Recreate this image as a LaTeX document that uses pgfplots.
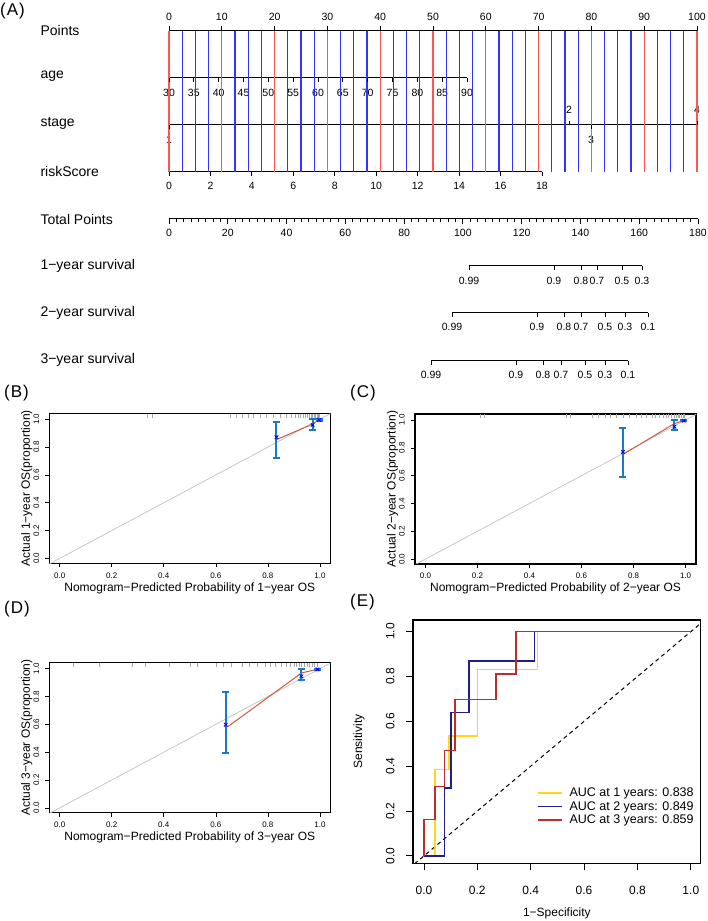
\documentclass[border=0pt]{standalone}
\usepackage{fontspec}
\setmainfont{Liberation Sans}
\usepackage{pgfplots}
\pgfplotsset{compat=1.18}
\definecolor{nred}{RGB}{255,85,85}
\definecolor{nblue}{RGB}{50,50,255}
\definecolor{ebar}{RGB}{25,120,200}
\definecolor{cred}{RGB}{205,90,65}
\definecolor{rocY}{RGB}{255,215,20}
\definecolor{rocB}{RGB}{30,30,140}
\definecolor{rocR}{RGB}{190,45,45}
\newcommand\fRow{\fontsize{14}{16}\selectfont}
\newcommand\fTk{\fontsize{10.5}{12}\selectfont}
\newcommand\fPan{\fontsize{17}{19}\selectfont}
\newcommand\fCt{\fontsize{8}{9}\selectfont}
\newcommand\fCl{\fontsize{12}{14}\selectfont}
\newcommand\fLg{\fontsize{12.5}{14}\selectfont}
\pgfplotsset{
 numfmt/.style={/pgf/number format/fixed, /pgf/number format/fixed zerofill, /pgf/number format/precision=1, /pgf/number format/assume math mode=true},
 calib/.style={scale only axis, width=281pt, height=150pt,
   xmin=-0.04, xmax=1.04, ymin=-0.035, ymax=1.043,
   axis line style={line width=1.1pt},
   tick align=outside, xtick pos=left, ytick pos=left,
   xtick={0,0.2,0.4,0.6,0.8,1}, ytick={0,0.2,0.4,0.6,0.8,1},
   major tick length=4pt, tick style={black, line width=0.6pt},
   xticklabel style={yshift=-4pt, font=\fCt, inner sep=1pt, numfmt},
   yticklabel style={xshift=-5pt, font=\fCt, inner sep=1pt, numfmt, rotate=90, anchor=south},
   xlabel style={font=\fCl, at={(axis description cs:0.5,-0.165)}, anchor=center},
   ylabel style={font=\fCl, at={(axis description cs:-0.08,0.5)}, anchor=center},
 },
 diag/.style={gray!45, line width=0.8pt},
 rug/.style={only marks, mark=|, mark size=2pt, mark options={gray!70, line width=0.4pt}},
 calline/.style={cred, line width=1pt},
 ebars/.style={only marks, mark=x, mark size=2.5pt, mark options={blue, line width=0.9pt},
   error bars/.cd, y dir=both, y explicit, error mark=|,
   error bar style={ebar, line width=2pt},
   error mark options={ebar, line width=2pt, mark size=3.5pt}},
 ntick/.style={only marks, mark=|, mark options={black, line width=0.9pt}},
}
\begin{document}
\begin{tikzpicture}[x=1pt,y=1pt]
\useasboundingbox (0,0) rectangle (708,921);
\node[anchor=west, font=\fPan, inner sep=0pt] at (0,910) {(\kern1pt A\kern1pt)};
\node[anchor=west, font=\fPan, inner sep=0pt] at (4,528) {(\kern1pt B\kern1pt)};
\node[anchor=west, font=\fPan, inner sep=0pt] at (350,528) {(\kern1pt C\kern1pt)};
\node[anchor=west, font=\fPan, inner sep=0pt] at (4,312) {(\kern1pt D\kern1pt)};
\node[anchor=west, font=\fPan, inner sep=0pt] at (350,319) {(\kern1pt E\kern1pt)};

% ---------------- nomogram (x in Points units, y in rows) ----------------
\begin{axis}[at={(0pt,536pt)}, anchor=south west, scale only axis, width=708pt, height=385pt,
  xmin=-32.008, xmax=102.083, ymin=0, ymax=385, y dir=reverse, axis lines=none, clip=false]
% vertical reference lines
\addplot[only marks, mark=|, mark size=70.5pt, mark options={nblue, line width=1.1pt}] coordinates {
 (2.5,101.5)(5,101.5)(7.5,101.5)(12.5,101.5)(15,101.5)(17.5,101.5)(22.5,101.5)(25,101.5)(27.5,101.5)
 (32.5,101.5)(35,101.5)(37.5,101.5)(42.5,101.5)(45,101.5)(47.5,101.5)(52.5,101.5)(55,101.5)(57.5,101.5)
 (62.5,101.5)(65,101.5)(67.5,101.5)(72.5,101.5)(75,101.5)(77.5,101.5)(82.5,101.5)(85,101.5)(87.5,101.5)
 (92.5,101.5)(95,101.5)(97.5,101.5)};
\addplot[only marks, mark=|, mark size=70.5pt, mark options={nred, line width=1.1pt}] coordinates {
 (0,101.5)(10,101.5)(20,101.5)(30,101.5)(40,101.5)(50,101.5)(60,101.5)(70,101.5)(80,101.5)(90,101.5)(100,101.5)};
% Points
\addplot[black, line width=1pt] coordinates {(0,31) (100,31)};
\addplot[ntick, mark size=2.5pt] coordinates {(0,28.5)(10,28.5)(20,28.5)(30,28.5)(40,28.5)(50,28.5)(60,28.5)(70,28.5)(80,28.5)(90,28.5)(100,28.5)};
\pgfplotsinvokeforeach{0,10,...,100}{\node[font=\fTk] at (axis cs:#1,17) {#1};}
% age
\addplot[black, line width=1pt] coordinates {(0,78) (56.44,78)};
\addplot[ntick, mark size=2pt] coordinates {(0,80)(4.703,80)(9.407,80)(14.11,80)(18.813,80)(23.517,80)(28.22,80)(32.923,80)(37.627,80)(42.33,80)(47.033,80)(51.737,80)(56.44,80)};
\node[font=\fTk] at (axis cs:0,93) {30};
\node[font=\fTk] at (axis cs:4.703,93) {35};
\node[font=\fTk] at (axis cs:9.407,93) {40};
\node[font=\fTk] at (axis cs:14.11,93) {45};
\node[font=\fTk] at (axis cs:18.813,93) {50};
\node[font=\fTk] at (axis cs:23.517,93) {55};
\node[font=\fTk] at (axis cs:28.22,93) {60};
\node[font=\fTk] at (axis cs:32.923,93) {65};
\node[font=\fTk] at (axis cs:37.627,93) {70};
\node[font=\fTk] at (axis cs:42.33,93) {75};
\node[font=\fTk] at (axis cs:47.033,93) {80};
\node[font=\fTk] at (axis cs:51.737,93) {85};
\node[font=\fTk] at (axis cs:56.44,93) {90};
% stage
\addplot[black, line width=1pt] coordinates {(0,125) (100,125)};
\addplot[ntick, mark size=2pt] coordinates {(0,127)(79.92,127)};
\addplot[ntick, mark size=2pt] coordinates {(75.76,123)(100,123)};
\node[font=\fTk] at (axis cs:0,140) {1};
\node[font=\fTk] at (axis cs:75.76,110) {2};
\node[font=\fTk] at (axis cs:79.92,140) {3};
\node[font=\fTk] at (axis cs:100,110) {4};
% riskScore
\addplot[black, line width=1pt] coordinates {(0,172) (70.64,172)};
\addplot[ntick, mark size=2pt] coordinates {(0,174)(7.849,174)(15.698,174)(23.546,174)(31.395,174)(39.244,174)(47.093,174)(54.942,174)(62.79,174)(70.64,174)};
\node[font=\fTk] at (axis cs:0,186) {0};
\node[font=\fTk] at (axis cs:7.849,186) {2};
\node[font=\fTk] at (axis cs:15.698,186) {4};
\node[font=\fTk] at (axis cs:23.546,186) {6};
\node[font=\fTk] at (axis cs:31.395,186) {8};
\node[font=\fTk] at (axis cs:39.244,186) {10};
\node[font=\fTk] at (axis cs:47.093,186) {12};
\node[font=\fTk] at (axis cs:54.942,186) {14};
\node[font=\fTk] at (axis cs:62.79,186) {16};
\node[font=\fTk] at (axis cs:70.64,186) {18};
% 1-year survival
\addplot[black, line width=1pt] coordinates {(56.82,266) (89.58,266)};
\addplot[ntick, mark size=2pt] coordinates {(56.82,268)(72.92,268)(78.03,268)(81.06,268)(85.80,268)(89.58,268)};
\node[font=\fTk] at (axis cs:56.82,281) {0.99};
\node[font=\fTk] at (axis cs:72.92,281) {0.9};
\node[font=\fTk] at (axis cs:78.03,281) {0.8};
\node[font=\fTk] at (axis cs:81.06,281) {0.7};
\node[font=\fTk] at (axis cs:85.80,281) {0.5};
\node[font=\fTk] at (axis cs:89.58,281) {0.3};
% 2-year survival
\addplot[black, line width=1pt] coordinates {(53.60,313) (90.72,313)};
\addplot[ntick, mark size=2pt] coordinates {(53.60,315)(69.70,315)(74.81,315)(78.03,315)(82.58,315)(86.36,315)(90.72,315)};
\node[font=\fTk] at (axis cs:53.60,327) {0.99};
\node[font=\fTk] at (axis cs:69.70,327) {0.9};
\node[font=\fTk] at (axis cs:74.81,327) {0.8};
\node[font=\fTk] at (axis cs:78.03,327) {0.7};
\node[font=\fTk] at (axis cs:82.58,327) {0.5};
\node[font=\fTk] at (axis cs:86.36,327) {0.3};
\node[font=\fTk] at (axis cs:90.72,327) {0.1};
% 3-year survival
\addplot[black, line width=1pt] coordinates {(49.62,361) (86.93,361)};
\addplot[ntick, mark size=2pt] coordinates {(49.62,363)(65.72,363)(70.83,363)(74.24,363)(78.79,363)(82.58,363)(86.93,363)};
\node[font=\fTk] at (axis cs:49.62,375) {0.99};
\node[font=\fTk] at (axis cs:65.72,375) {0.9};
\node[font=\fTk] at (axis cs:70.83,375) {0.8};
\node[font=\fTk] at (axis cs:74.24,375) {0.7};
\node[font=\fTk] at (axis cs:78.79,375) {0.5};
\node[font=\fTk] at (axis cs:82.58,375) {0.3};
\node[font=\fTk] at (axis cs:86.93,375) {0.1};
% row labels
\node[font=\fRow, anchor=west] at (axis cs:-25,31) {Points};
\node[font=\fRow, anchor=west] at (axis cs:-25,76) {age};
\node[font=\fRow, anchor=west] at (axis cs:-25,123) {stage};
\node[font=\fRow, anchor=west] at (axis cs:-25,171) {riskScore};
\node[font=\fRow, anchor=west] at (axis cs:-25,219) {Total Points};
\node[font=\fRow, anchor=west] at (axis cs:-25,266) {1−year survival};
\node[font=\fRow, anchor=west] at (axis cs:-25,313) {2−year survival};
\node[font=\fRow, anchor=west] at (axis cs:-25,360) {3−year survival};
\end{axis}

% Total Points scale
\begin{axis}[at={(169pt,702pt)}, anchor=south west, scale only axis, width=529pt, height=10pt,
  xmin=0, xmax=180, ymin=0, ymax=1, axis x line*=bottom, axis y line=none,
  axis line style={line width=1pt}, tick align=outside,
  xtick={0,20,...,180}, minor x tick num=7, major tick length=5pt, minor tick length=3pt,
  tick style={black, line width=0.8pt},
  xticklabel style={yshift=-2pt, font=\fTk, /pgf/number format/assume math mode=true}]
\addplot[draw=none] coordinates {(0,0) (180,0)};
\end{axis}

% ---------------- (B) ----------------
\begin{axis}[calib, at={(49.3pt,357.7pt)}, anchor=south west,
  xlabel={Nomogram−Predicted Probability of 1−year OS}, ylabel={Actual 1−year OS(proportion)}]
\addplot[diag] coordinates {(-0.1,-0.1) (1.1,1.1)};
\addplot[rug] coordinates {(0.335,1.025)(0.354,1.025)(0.655,1.025)(0.68,1.025)(0.70,1.025)(0.725,1.025)(0.744,1.025)(0.77,1.025)(0.795,1.025)(0.821,1.025)(0.847,1.025)(0.872,1.025)(0.89,1.025)(0.905,1.025)(0.915,1.025)(0.925,1.025)(0.935,1.025)(0.945,1.025)(0.952,1.025)(0.96,1.025)(0.966,1.025)(0.972,1.025)(0.978,1.025)(0.983,1.025)(0.988,1.025)(0.992,1.025)(0.996,1.025)};
\addplot[calline] coordinates {(0.835,0.855) (0.972,0.966) (0.997,0.996)};
\addplot[ebars] coordinates {(0.833,0.871) += (0,0.107) -= (0,0.146)
 (0.972,0.959) += (0,0.041) -= (0,0.036)
 (0.997,0.995) += (0,0.005) -= (0,0.005)};
\end{axis}

% ---------------- (C) ----------------
\begin{axis}[calib, at={(415pt,357pt)}, anchor=south west,
  xlabel={Nomogram−Predicted Probability of 2−year OS}, ylabel={Actual 2−year OS(proportion)}]
\addplot[diag] coordinates {(-0.1,-0.1) (1.1,1.1)};
\addplot[rug] coordinates {(0.21,1.025)(0.225,1.025)(0.54,1.025)(0.555,1.025)(0.64,1.025)(0.665,1.025)(0.69,1.025)(0.71,1.025)(0.735,1.025)(0.76,1.025)(0.785,1.025)(0.81,1.025)(0.83,1.025)(0.85,1.025)(0.87,1.025)(0.885,1.025)(0.9,1.025)(0.912,1.025)(0.924,1.025)(0.935,1.025)(0.945,1.025)(0.955,1.025)(0.963,1.025)(0.97,1.025)(0.977,1.025)(0.984,1.025)(0.99,1.025)(0.995,1.025)};
\addplot[calline] coordinates {(0.762,0.755) (0.955,0.972) (0.993,0.997)};
\addplot[ebars] coordinates {(0.759,0.770) += (0,0.170) -= (0,0.179)
 (0.957,0.952) += (0,0.048) -= (0,0.026)
 (0.993,0.995) += (0,0.005) -= (0,0.005)};
\end{axis}

% ---------------- (D) ----------------
\begin{axis}[calib, at={(49.3pt,108.3pt)}, anchor=south west,
  xlabel={Nomogram−Predicted Probability of 3−year OS}, ylabel={Actual 3−year OS(proportion)}]
\addplot[diag] coordinates {(-0.1,-0.1) (1.1,1.1)};
\addplot[rug] coordinates {(0.05,1.025)(0.15,1.025)(0.28,1.025)(0.33,1.025)(0.42,1.025)(0.5,1.025)(0.53,1.025)(0.6,1.025)(0.63,1.025)(0.66,1.025)(0.7,1.025)(0.73,1.025)(0.76,1.025)(0.79,1.025)(0.81,1.025)(0.83,1.025)(0.85,1.025)(0.87,1.025)(0.885,1.025)(0.9,1.025)(0.91,1.025)(0.92,1.025)(0.93,1.025)(0.94,1.025)(0.95,1.025)(0.96,1.025)(0.97,1.025)(0.98,1.025)(0.99,1.025)};
\addplot[calline] coordinates {(0.646,0.583) (0.930,0.970) (0.991,0.995)};
\addplot[ebars] coordinates {(0.638,0.597) += (0,0.236) -= (0,0.203)
 (0.929,0.945) += (0,0.055) -= (0,0.024)
 (0.991,0.995) += (0,0.005) -= (0,0.005)};
\end{axis}

% ---------------- (E) ROC ----------------
\begin{axis}[at={(413pt,57.7pt)}, anchor=south west, scale only axis, width=287.7pt, height=243.3pt,
  xmin=-0.041, xmax=1.037, ymin=-0.033, ymax=1.052,
  axis line style={line width=1.1pt}, tick align=outside, xtick pos=left, ytick pos=left,
  xtick={0,0.2,0.4,0.6,0.8,1}, ytick={0,0.2,0.4,0.6,0.8,1},
  major tick length=7pt, tick style={black, line width=0.8pt},
  xticklabel style={yshift=-12pt, font=\fCl, numfmt},
  yticklabel style={xshift=-8pt, font=\fCl, numfmt, rotate=90, anchor=south},
  xlabel={1−Specificity}, ylabel={Sensitivity},
  xlabel style={font=\fCl, at={(axis description cs:0.5,-0.204)}, anchor=center},
  ylabel style={font=\fCl, at={(axis description cs:-0.188,0.5)}, anchor=center},
  legend style={at={(axis description cs:0.43,0.315)}, anchor=north west, draw=none, fill=none,
    font=\fLg, inner sep=0pt, row sep=1.4pt, nodes={inner sep=1pt},
    /tikz/every odd column/.append style={column sep=6pt}},
  legend cell align=left,
  legend image code/.code={\draw[#1] (0pt,0pt) -- (24pt,0pt);}]
\addplot[black, dashed, dash pattern=on 4pt off 3.5pt, line width=1pt, forget plot] coordinates {(-0.1,-0.1) (1.1,1.1)};
\addplot[rocY, line width=1.6pt] coordinates {(0,0)(0.041,0)(0.041,0.386)(0.094,0.386)(0.094,0.535)(0.201,0.535)(0.201,0.832)(0.425,0.832)(0.425,1)(1,1)};
\addlegendentry{AUC at 1 years: 0.838}
\addplot[rocB, line width=1.6pt] coordinates {(0,0)(0.0775,0)(0.0775,0.302)(0.101,0.302)(0.101,0.639)(0.169,0.639)(0.169,0.869)(0.414,0.869)(0.414,1)(1,1)};
\addlegendentry{AUC at 2 years: 0.849}
\addplot[rocR, line width=1.6pt] coordinates {(0,0)(0,0.163)(0.041,0.163)(0.041,0.309)(0.0775,0.309)(0.0775,0.470)(0.116,0.470)(0.116,0.698)(0.269,0.698)(0.269,0.810)(0.346,0.810)(0.346,1)(1,1)};
\addlegendentry{AUC at 3 years: 0.859}
\end{axis}
\end{tikzpicture}
\end{document}
